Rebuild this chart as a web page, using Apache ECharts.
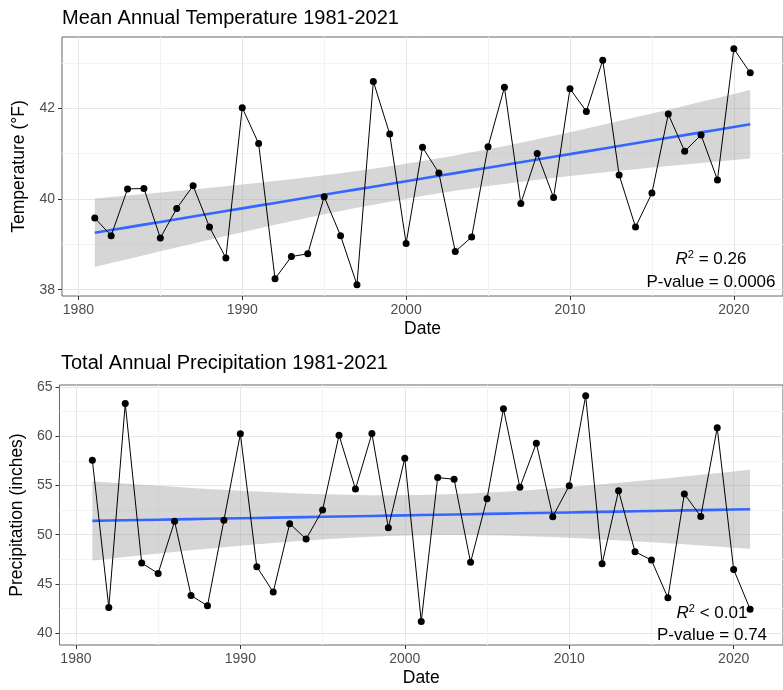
<!DOCTYPE html>
<html><head><meta charset="utf-8">
<script src="https://cdn.jsdelivr.net/npm/echarts@6/dist/echarts.min.js"></script>
<style>html,body{margin:0;padding:0;background:#fff}#c{width:783px;height:690px}</style>
</head><body><div id="c"></div>
<script>
// ---- data ----
const years = [1981,1982,1983,1984,1985,1986,1987,1988,1989,1990,
  1991,1992,1993,1994,1995,1996,1997,1998,1999,2000,
  2001,2002,2003,2004,2005,2006,2007,2008,2009,2010,
  2011,2012,2013,2014,2015,2016,2017,2018,2019,2020,2021];
const temperature = [39.58,39.19,40.22,40.23,39.14,39.79,40.29,39.38,38.70,42.01,
  41.22,38.24,38.73,38.79,40.05,39.19,38.11,42.59,41.43,39.02,
  41.14,40.57,38.84,39.16,41.15,42.46,39.90,41.00,40.03,42.43,
  41.93,43.06,40.53,39.38,40.13,41.87,41.05,41.41,40.42,43.31,42.78];
const precipitation = [57.56,42.61,63.32,47.12,46.07,51.36,43.83,42.78,51.46,60.24,
  46.75,44.17,51.12,49.56,52.51,60.10,54.64,60.27,50.71,57.76,
  41.19,55.80,55.63,47.19,53.66,62.78,54.81,59.29,51.83,54.98,
  64.10,47.05,54.47,48.27,47.42,43.59,54.14,51.86,60.85,46.47,42.44];
const xTicks = [1980,1990,2000,2010,2020];
const tempTicks = [38,40,42];
const precipTicks = [40,45,50,55,60,65];
const tempTitle = 'Mean Annual Temperature 1981-2021';
const precipTitle = 'Total Annual Precipitation 1981-2021';
const tempYName = 'Temperature (°F)';
const precipYName = 'Precipitation (inches)';
const xName = 'Date';
const tempStats = ['= 0.26', 'P-value = 0.0006'];
const precipStats = ['< 0.01', 'P-value = 0.74'];
const tCrit = 2.0227; // t(0.975, df = 39)

// linear fit + 95% confidence band (as geom_smooth(method="lm"))
function fitBand(xs, ys) {
  const n = xs.length;
  const mx = xs.reduce((a,b)=>a+b,0)/n, my = ys.reduce((a,b)=>a+b,0)/n;
  let sxx=0, sxy=0;
  for (let i=0;i<n;i++){ sxx += (xs[i]-mx)**2; sxy += (xs[i]-mx)*(ys[i]-my); }
  const b = sxy/sxx, a = my - b*mx;
  let sse = 0;
  for (let i=0;i<n;i++){ const r = ys[i]-(a+b*xs[i]); sse += r*r; }
  const s = Math.sqrt(sse/(n-2));
  return xs.map(x => {
    const yh = a + b*x;
    const se = s*Math.sqrt(1/n + (x-mx)**2/sxx);
    return [x, yh, yh - tCrit*se, yh + tCrit*se];
  });
}
const tempFit = fitBand(years, temperature);
const precipFit = fitBand(years, precipitation);

const FONT = '"Liberation Sans", Arial, sans-serif';

function xAxisCfg(gi) {
  return {
    type:'value', gridIndex: gi, min:1979, max:2023, splitNumber:5,
    axisLine:{show:false},
    axisTick:{show:true, length:4, customValues: xTicks, lineStyle:{color:'#333', width:1}},
    axisLabel:{customValues: xTicks, color:'#4d4d4d', fontSize:14, margin:7, fontFamily:FONT,
      formatter: v => String(v)},
    splitLine:{show:true, lineStyle:{color:'#e6e6e6', width:1}},
    minorTick:{show:false, splitNumber:2},
    minorSplitLine:{show:true, lineStyle:{color:'#f3f3f3', width:1}},
    name:xName, nameLocation:'middle', nameGap:24,
    nameTextStyle:{fontSize:17.5, color:'#000', fontFamily:FONT}
  };
}
function yAxisCfg(gi, min, max, split, ticks, name) {
  return {
    type:'value', gridIndex: gi, min:min, max:max, splitNumber:split,
    axisLine:{show:false},
    axisTick:{show:true, length:4, customValues: ticks, lineStyle:{color:'#333', width:1}},
    axisLabel:{customValues: ticks, color:'#4d4d4d', fontSize:14, margin:7, fontFamily:FONT,
      formatter: v => String(v)},
    splitLine:{show:true, lineStyle:{color:'#e6e6e6', width:1}},
    minorTick:{show:false, splitNumber:2},
    minorSplitLine:{show:true, lineStyle:{color:'#f3f3f3', width:1}},
    name:name, nameLocation:'middle', nameGap:30,
    nameTextStyle:{fontSize:17.5, color:'#000', fontFamily:FONT}
  };
}
function bandSeries(gi, fit) {
  return {
    type:'custom', xAxisIndex:gi, yAxisIndex:gi, silent:true, z:1,
    data: fit.map(d => [d[0], d[2], d[3]]),
    encode:{x:0, y:[1,2]},
    renderItem: function(params, api) {
      if (params.dataIndex !== 0) return null;
      const top = [], bot = [];
      for (let i=0;i<fit.length;i++) {
        top.push(api.coord([fit[i][0], fit[i][3]]));
        bot.push(api.coord([fit[i][0], fit[i][2]]));
      }
      return {type:'polygon', shape:{points: top.concat(bot.reverse())},
        style:{fill:'rgba(153,153,153,0.4)'}};
    }
  };
}
function dataSeries(gi, vals) {
  return {
    type:'line', xAxisIndex:gi, yAxisIndex:gi, z:3,
    data: years.map((y,i)=>[y, vals[i]]),
    symbol:'circle', symbolSize:7, showSymbol:true,
    itemStyle:{color:'#000'}, lineStyle:{color:'#000', width:1}, animation:false
  };
}
function fitSeries(gi, fit) {
  return {
    type:'line', xAxisIndex:gi, yAxisIndex:gi, z:2,
    data: fit.map(d => [d[0], d[1]]), showSymbol:false, symbol:'none',
    lineStyle:{color:'#3366FF', width:2.6}, animation:false
  };
}
function statText(cx, y1, y2, s) {
  return [
    {type:'text', x:cx, y:y1, z:10, style:{
      text:'{i|R}{s|2}{n| ' + s[0] + '}', align:'center', verticalAlign:'middle',
      fontFamily:FONT, fontSize:17, fill:'#000',
      rich:{i:{fontStyle:'italic', fontSize:17, fontFamily:FONT},
            s:{fontSize:11, padding:[0,0,9,0], fontFamily:FONT},
            n:{fontSize:17, fontFamily:FONT}}}},
    {type:'text', x:cx, y:y2, z:10, style:{text:s[1], align:'center', verticalAlign:'middle',
      fontFamily:FONT, fontSize:17, fill:'#000'}}
  ];
}

const chart = echarts.init(document.getElementById('c'), null, {renderer:'canvas'});
chart.setOption({
  animation:false,
  backgroundColor:'#fff',
  textStyle:{fontFamily:FONT},
  grid:[
    {left:62, top:37, width:723, height:259, show:true, borderColor:'#666', borderWidth:1, backgroundColor:'#fff'},
    {left:58.5, top:385, width:725, height:260, show:true, borderColor:'#666', borderWidth:1, backgroundColor:'#fff'}
  ],
  xAxis:[xAxisCfg(0), xAxisCfg(1)],
  yAxis:[yAxisCfg(0, 37.86, 43.57, 3, tempTicks, tempYName),
         yAxisCfg(1, 38.8, 65.2, 5, precipTicks, precipYName)],
  series:[
    bandSeries(0, tempFit), fitSeries(0, tempFit), dataSeries(0, temperature),
    bandSeries(1, precipFit), fitSeries(1, precipFit), dataSeries(1, precipitation)
  ],
  graphic:[
    {type:'text', x:62, y:18, style:{text:tempTitle, fontSize:20, fontFamily:FONT, fill:'#000', verticalAlign:'middle'}},
    {type:'text', x:61, y:363, style:{text:precipTitle, fontSize:20, fontFamily:FONT, fill:'#000', verticalAlign:'middle'}}
  ].concat(statText(711, 259, 282, tempStats)).concat(statText(712, 613, 635, precipStats))
});
</script></body></html>
